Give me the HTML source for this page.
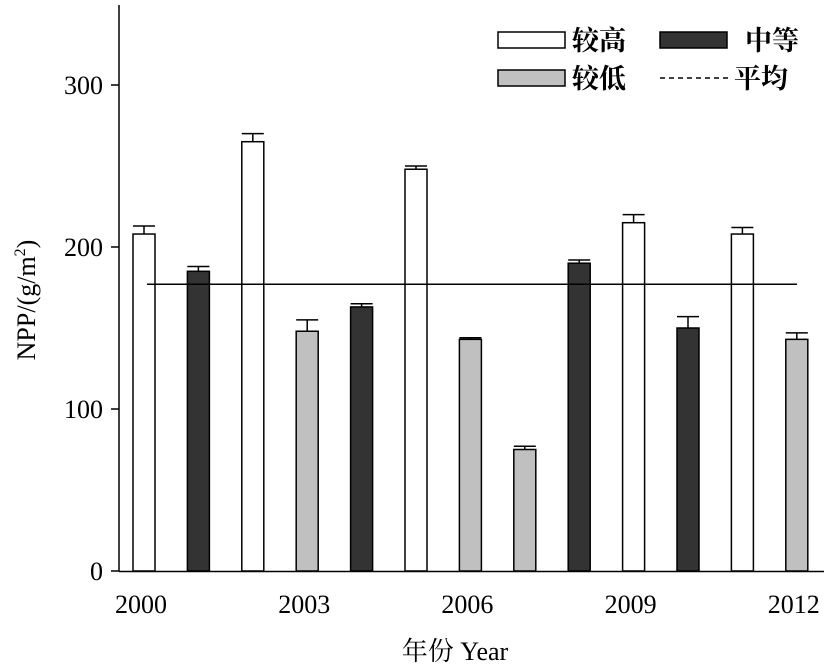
<!DOCTYPE html>
<html><head><meta charset="utf-8"><style>
body{margin:0;background:#fff}
svg{display:block;font-family:"Liberation Serif","Noto Serif CJK SC","Noto Sans CJK SC",serif}
</style></head><body>
<svg id="chart" width="824" height="665" viewBox="0 0 824 665">
<g id="plot"></g>
</svg>
<script>
const years=[2000,2001,2002,2003,2004,2005,2006,2007,2008,2009,2010,2011,2012];
const values=[208,185,265,148,163,248,143,75,190,215,150,208,143];
const errors=[5,3,5,7,2,2,1,2,2,5,7,4,4];
const groups=["high","mid","high","low","mid","high","low","low","mid","high","mid","high","low"];
const yTicks=[0,100,200,300];
const xTickYears=[2000,2003,2006,2009,2012];
const meanValue=177;
const fills={high:"#ffffff",mid:"#333333",low:"#c0c0c0"};
const NS="http://www.w3.org/2000/svg";
const g=document.getElementById('plot');
const y=v=>571-v*1.62;
const x=yr=>144+(yr-2000)*54.4;
function mk(t,a){const e=document.createElementNS(NS,t);for(const k in a)e.setAttribute(k,a[k]);g.appendChild(e);return e;}
// axes
let e=mk('line',{x1:119,y1:5,x2:119,y2:571.5,stroke:'#000','stroke-width':1.5});


e=mk('line',{x1:119,y1:571.5,x2:824,y2:571.5,stroke:'#000','stroke-width':1.5});


yTicks.forEach(v=>{
 let t=mk('line',{x1:111,y1:y(v),x2:119,y2:y(v),stroke:'#000','stroke-width':1.5});
 
 
 let l=mk('text',{x:103,y:y(v)+9,'text-anchor':'end','font-size':26});
 l.textContent=v;
 
 
});
xTickYears.forEach(yr=>{
 let l=mk('text',{x:x(yr)-3,y:613,'text-anchor':'middle','font-size':26});
 l.textContent=yr;
 
 
});
years.forEach((yr,i)=>{
 const cx=x(yr),top=y(values[i]),et=y(values[i]+errors[i]);
 let el=mk('line',{x1:cx,y1:top,x2:cx,y2:et,stroke:'#000','stroke-width':1.5});
 
 
 el=mk('line',{x1:cx-11,y1:et,x2:cx+11,y2:et,stroke:'#000','stroke-width':1.5});
 
 
 el=mk('rect',{x:cx-11,y:top,width:22,height:571-top,fill:fills[groups[i]],stroke:'#000','stroke-width':1.5});
 
 
});
e=mk('line',{x1:147,y1:y(meanValue),x2:797,y2:y(meanValue),stroke:'#000','stroke-width':1.5});


// axis titles
e=mk('text',{x:455,y:660,'text-anchor':'middle','font-size':26});
e.textContent='年份 Year';


e=mk('text',{transform:'translate(35,300) rotate(-90)','text-anchor':'middle','font-size':26});
e.innerHTML='NPP/(g/m<tspan font-size="16" dy="-10">2</tspan><tspan dy="10">)</tspan>';


// legend
const leg=[["较高",498,40,'rect',fills.high],["中等",660,40,'rect',fills.mid],["较低",498,78,'rect',fills.low],["平均",660,78,'dash',null]];
leg.forEach(([lab,lx,ly,kind,f])=>{
 let s;
 if(kind==='rect'){s=mk('rect',{x:lx,y:ly-8,width:67,height:16,fill:f,stroke:'#000','stroke-width':1.5});}
 else{s=mk('line',{x1:lx,y1:ly,x2:lx+68,y2:ly,stroke:'#000','stroke-width':1.5,'stroke-dasharray':'5,4'});}
 
 
 let t=mk('text',{x:lx+(kind==='rect'&&lx>600?85:74),y:ly+10,'font-size':27,'font-weight':'bold'});
 t.textContent=lab;
 
 
});
</script>
</body></html>
